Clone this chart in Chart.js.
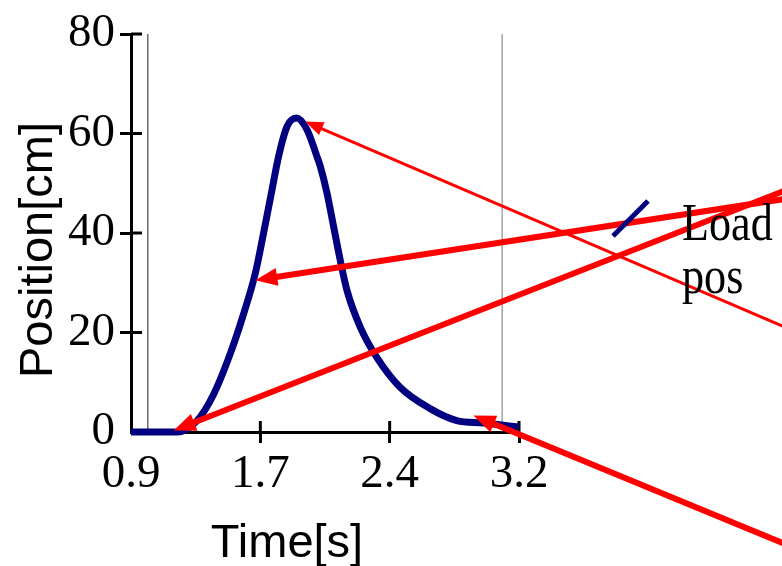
<!DOCTYPE html>
<html><head><meta charset="utf-8">
<script src="https://cdn.jsdelivr.net/npm/chart.js@4/dist/chart.umd.min.js"></script>
<style>html,body{margin:0;padding:0;background:#fff}#wrap{width:782px;height:566px;position:relative}</style>
</head><body><div id="wrap"><canvas id="c"></canvas></div>
<script>
// ---- data ----
const timeS      = [0.9, 1.05, 1.173, 1.292, 1.390, 1.489, 1.568, 1.637, 1.686, 1.736, 1.775, 1.825, 1.880, 1.943, 2.002, 2.022, 2.062, 2.101, 2.140, 2.180, 2.259, 2.357, 2.495, 2.673, 2.831, 2.989, 3.2];
const positionCm = [0,   0,    0,     2.3,   7.6,   15.8,  23.8,  31.9,  40.0,  48.7,  55.4,  61.4,  63.1,  60.8,  55.4,  53.4,  48.0,  41.3,  34.6,  28.5,  21.1,  15.0,  9.0,   4.7,   2.3,   1.8,   1.0];
const cursorTimes = [1.0, 3.1];
const xTickValues = [0.9, 1.6667, 2.4333, 3.2];
const xTickLabels = ['0.9', '1.7', '2.4', '3.2'];
const yTickValues = [0, 20, 40, 60, 80];
const seriesLabel = 'Load pos';
const xTitle = 'Time[s]';
const yTitle = 'Position[cm]';
// annotation arrows (data units): tip -> tail
const arrowTipX  = [1.933, 1.637, 1.153, 2.93];
const arrowTipY  = [62.4, 30.5, 0.3, 3.3];
const arrowTailX = [4.863, 4.863, 4.863, 4.863];
const arrowTailY = [19.8, 47.3, 49.7, -23.7];

const arrowStyle = [{w:3, len:18, half:7}, {w:6, len:22, half:9}, {w:6, len:22, half:9}, {w:6, len:22, half:9}];
const cursorColors = ['#222', '#777'];

const datasets = [{
  label: seriesLabel,
  data: timeS.map((t, i) => ({x: t, y: positionCm[i]})),
  borderColor: '#000080', borderWidth: 7, pointRadius: 0,
  cubicInterpolationMode: 'monotone', fill: false, clip: 8, order: 0
}];
cursorTimes.forEach((t, i) => datasets.push({
  label: 'cursor', data: [{x: t, y: 0}, {x: t, y: 80}],
  borderColor: cursorColors[i], borderWidth: 1, pointRadius: 0, fill: false, order: 1
}));

const extras = {
  id: 'extras',
  beforeDatasetsDraw(chart) {
    const {ctx, chartArea: a, scales: {x, y}} = chart;
    ctx.save();
    ctx.strokeStyle = '#000'; ctx.lineWidth = 3; ctx.lineCap = 'butt';
    xTickValues.forEach((v, i) => { if (!i) return; const px = x.getPixelForValue(v);
      ctx.beginPath(); ctx.moveTo(px, a.bottom); ctx.lineTo(px, a.bottom - 11); ctx.stroke(); });
    yTickValues.forEach((v, i) => { if (!i) return; const py = y.getPixelForValue(v);
      ctx.beginPath(); ctx.moveTo(a.left, py); ctx.lineTo(a.left + 11, py); ctx.stroke(); });
    ctx.restore();
  },
  afterDraw(chart) {
    const {ctx, chartArea: a, scales: {x, y}} = chart;
    ctx.save();
    // arrows
    ctx.fillStyle = '#ff0000'; ctx.strokeStyle = '#ff0000';
    arrowTipX.forEach((tx, i) => {
      const st = arrowStyle[i];
      const x1 = x.getPixelForValue(tx), y1 = y.getPixelForValue(arrowTipY[i]);
      const x0 = x.getPixelForValue(arrowTailX[i]), y0 = y.getPixelForValue(arrowTailY[i]);
      const ang = Math.atan2(y1 - y0, x1 - x0);
      const bx = x1 - st.len * Math.cos(ang), by = y1 - st.len * Math.sin(ang);
      ctx.lineWidth = st.w;
      ctx.beginPath(); ctx.moveTo(x0, y0); ctx.lineTo(bx + Math.cos(ang), by + Math.sin(ang)); ctx.stroke();
      ctx.beginPath(); ctx.moveTo(x1, y1);
      ctx.lineTo(bx + st.half * Math.sin(ang), by - st.half * Math.cos(ang));
      ctx.lineTo(bx - st.half * Math.sin(ang), by + st.half * Math.cos(ang));
      ctx.closePath(); ctx.fill();
    });
    // legend
    ctx.strokeStyle = '#000080'; ctx.lineWidth = 5;
    ctx.beginPath(); ctx.moveTo(a.right + 94, 236); ctx.lineTo(a.right + 129, 201); ctx.stroke();
    ctx.fillStyle = '#000';
    ctx.font = '52px "Liberation Serif"'; ctx.textBaseline = 'alphabetic'; ctx.textAlign = 'left';
    const parts = seriesLabel.split(' ');
    ctx.save(); ctx.translate(a.right + 163, 0); ctx.scale(0.85, 1);
    ctx.fillText(parts[0], 0, 240); ctx.fillText(parts[1], 0, 293);
    ctx.restore();
    // axis titles
    ctx.font = '47px "Liberation Sans"'; ctx.textAlign = 'center';
    ctx.fillText(xTitle, 287, 557);
    ctx.save(); ctx.translate(52, 250); ctx.rotate(-Math.PI / 2);
    ctx.fillText(yTitle, 0, 0); ctx.restore();
    ctx.restore();
  }
};

new Chart(document.getElementById('c'), {
  type: 'line',
  data: {datasets},
  plugins: [extras],
  options: {
    responsive: true, maintainAspectRatio: false, animation: false,
    layout: {padding: {top: 34, right: 263, left: 0, bottom: 0}},
    plugins: {legend: {display: false}, tooltip: {enabled: false}},
    scales: {
      x: {
        type: 'linear', min: 0.9, max: 3.2,
        afterBuildTicks: s => { s.ticks = xTickValues.map(v => ({value: v})); },
        afterFit: s => { s.height = 134; },
        border: {display: true, color: '#000', width: 3},
        grid: {drawOnChartArea: false, drawTicks: true, tickLength: 11, tickWidth: 3,
               color: c => c.index === 0 ? 'rgba(0,0,0,0)' : '#000'},
        ticks: {color: '#000', padding: 3, maxRotation: 0, autoSkip: false,
                font: {family: '"Liberation Serif"', size: 47},
                callback: (v, i) => xTickLabels[i]}
      },
      y: {
        type: 'linear', min: 0, max: 80,
        afterBuildTicks: s => { s.ticks = yTickValues.map(v => ({value: v})); },
        afterFit: s => { s.width = 131; },
        border: {display: true, color: '#000', width: 3},
        grid: {drawOnChartArea: false, drawTicks: true, tickLength: 11, tickWidth: 3,
               color: c => c.index === 0 ? 'rgba(0,0,0,0)' : '#000'},
        ticks: {color: '#000', padding: 5, autoSkip: false,
                font: {family: '"Liberation Serif"', size: 47},
                callback: v => String(v)}
      }
    }
  }
});
</script></body></html>
